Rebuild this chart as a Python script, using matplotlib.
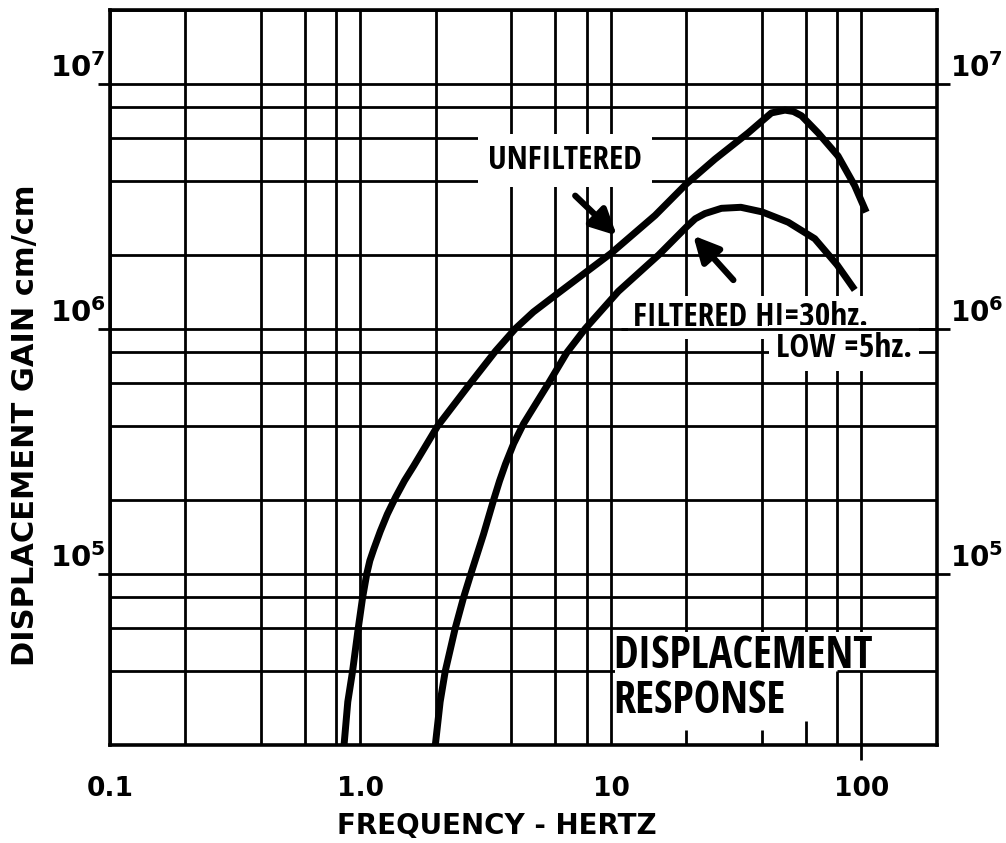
import matplotlib
matplotlib.use("Agg")
import matplotlib.pyplot as plt
import matplotlib.transforms as mtransforms
from matplotlib.patches import Rectangle
from matplotlib.ticker import FixedLocator, LogLocator, NullFormatter

# ---------------------------------------
# Response curves (frequency Hz, gain cm/cm)
# ---------------------------------------

unf_freq = [0.86, 0.89, 0.93, 0.98, 1.02, 1.06, 1.09, 1.13, 1.20, 1.28,
            1.38, 1.50, 1.63, 2.03, 2.75, 3.46, 4.15, 4.9, 6.0, 8.0,
            10.0, 15.0, 20.0, 26.0, 35.3, 43.7, 49.5, 53.5, 57.6, 67.1,
            80.6, 93.9, 104.5]
unf_gain = [2.0e4, 3.0e4, 4.0e4, 6.0e4, 8.0e4, 1.0e5, 1.13e5, 1.26e5, 1.49e5, 1.75e5,
            2.05e5, 2.4e5, 2.75e5, 4.0e5, 6.0e5, 8.1e5, 1.0e6, 1.17e6, 1.37e6, 1.71e6,
            2.03e6, 2.9e6, 3.9e6, 4.92e6, 6.3e6, 7.6e6, 7.8e6, 7.7e6, 7.4e6, 6.3e6,
            5.07e6, 3.84e6, 2.99e6]

filt_freq = [1.99, 2.08, 2.18, 2.39, 2.58, 2.76, 3.10, 3.40, 3.59, 3.79,
             4.09, 4.48, 5.64, 6.67, 7.89, 10.7, 15.5, 20.0, 21.7, 23.7,
             27.6, 33.0, 40.0, 51.0, 65.1, 80.0, 94.0]
filt_gain = [2.0e4, 3.0e4, 4.0e4, 6.0e4, 8.0e4, 1.0e5, 1.45e5, 2.0e5, 2.39e5, 2.80e5,
             3.4e5, 4.1e5, 6.0e5, 8.0e5, 1.0e6, 1.42e6, 2.0e6, 2.6e6, 2.81e6, 2.95e6,
             3.1e6, 3.13e6, 3.0e6, 2.72e6, 2.33e6, 1.82e6, 1.44e6]

x_ticks = [0.1, 1.0, 10, 100]
x_tick_labels = ["0.1", "1.0", "10", "100"]
y_ticks = [1e5, 1e6, 1e7]
y_tick_labels = ["10$^{5}$", "10$^{6}$", "10$^{7}$"]

narrow = ["Open Sans Condensed", "DejaVu Sans Condensed", "DejaVu Sans"]
plt.rcParams["mathtext.default"] = "bf"

# ---------------------------------------
# Axes and log grid
# ---------------------------------------

fig = plt.figure(figsize=(10.06, 8.43), dpi=100)
ax = fig.add_axes([0.1093, 0.1163, 0.822, 0.8719])
ax.set_xscale("log")
ax.set_yscale("log")
ax.set_xlim(0.1, 200)
ax.set_ylim(2e4, 2e7)

ax.xaxis.set_major_locator(FixedLocator(x_ticks))
ax.xaxis.set_minor_locator(LogLocator(base=10, subs=(2, 4, 6, 8)))
ax.yaxis.set_major_locator(FixedLocator(y_ticks))
ax.yaxis.set_minor_locator(LogLocator(base=10, subs=(2, 4, 6, 8)))
ax.xaxis.set_minor_formatter(NullFormatter())
ax.yaxis.set_minor_formatter(NullFormatter())

ax.set_axisbelow(True)
ax.grid(True, which="both", color="black", lw=2.0)
for s in ax.spines.values():
    s.set_linewidth(2.6)

ax.set_xticks(x_ticks)
ax.set_xticklabels(x_tick_labels, fontsize=19, fontweight="bold")
ax.tick_params(axis="x", which="major", length=11, width=2, pad=11)
ax.tick_params(axis="both", which="minor", length=0)
for tick in ax.xaxis.get_major_ticks()[:3]:
    tick.tick1line.set_visible(False)

ax.set_yticks(y_ticks)
ax.set_yticklabels([])
ax.tick_params(axis="y", which="major", left=True, right=True,
               length=9, width=2, direction="out")

# decade labels sit just above their grid line, on both sides
left_tf = mtransforms.blended_transform_factory(ax.transAxes, ax.transData)
for val, lab in zip(y_ticks, y_tick_labels):
    ax.text(-0.005, val * 1.01, lab, transform=left_tf, ha="right", va="bottom",
            fontsize=21, fontweight="bold")
    ax.text(1.016, val * 1.01, lab, transform=left_tf, ha="left", va="bottom",
            fontsize=20, fontweight="bold")

# ---------------------------------------
# Curves
# ---------------------------------------

ax.plot(unf_freq, unf_gain, color="black", lw=5, solid_capstyle="butt",
        solid_joinstyle="round", zorder=4)
ax.plot(filt_freq, filt_gain, color="black", lw=5, solid_capstyle="butt",
        solid_joinstyle="round", zorder=4)

arrow = dict(arrowstyle="-|>,head_length=0.7,head_width=0.35", lw=4.5,
             color="black", shrinkA=0, shrinkB=0, mutation_scale=22)
ax.annotate("", xy=(10.55, 2.4e6), xytext=(7.2, 3.49e6), arrowprops=arrow, zorder=5)
ax.annotate("", xy=(21.3, 2.4e6), xytext=(30.8, 1.58e6), arrowprops=arrow, zorder=5)

# ---------------------------------------
# Labels
# ---------------------------------------

ax.text(6.53, 4.88e6, "UNFILTERED", family=narrow, fontweight="bold",
        fontstretch="condensed", fontsize=24, ha="center", va="center", zorder=3,
        bbox=dict(boxstyle="square,pad=0.3", fc="white", ec="none"))

ax.text(12.3, 1.03e6, "FILTERED HI=30hz.", family=narrow, fontweight="bold",
        fontstretch="condensed", fontsize=24, ha="left", va="baseline", zorder=3,
        bbox=dict(boxstyle="square,pad=0.15", fc="white", ec="none"))
# the 10^6 rule runs under the filter caption
ax.hlines([1e6], 11, 200, color="black", lw=2.0, zorder=3.5)
ax.text(45.6, 8.33e5, "LOW =5hz.", family=narrow, fontweight="bold",
        fontstretch="condensed", fontsize=24, ha="left", va="center", zorder=3,
        bbox=dict(boxstyle="square,pad=0.2", fc="white", ec="none"))

# blank panel behind the caption in the lower right
ax.add_patch(Rectangle((10.4, 2e4), 200 - 10.4, 5.8e4 - 2e4, fc="white",
                       ec="none", zorder=1))
ax.vlines([20, 40], 2e4, 2.3e4, color="black", lw=2.0, zorder=1.5)
ax.vlines([60], 2e4, 2.5e4, color="black", lw=2.0, zorder=1.5)
ax.vlines([80, 100], 2e4, 4e4, color="black", lw=2.0, zorder=1.5)
ax.hlines([4e4], 80, 200, color="black", lw=2.0, zorder=1.5)

ax.text(10.2, 4.6e4, "DISPLACEMENT", family=narrow, fontweight="bold",
        fontstretch="condensed", fontsize=32, ha="left", va="center", zorder=3)
ax.text(10.2, 3.0e4, "RESPONSE", family=narrow, fontweight="bold",
        fontstretch="condensed", fontsize=32, ha="left", va="center", zorder=3)

fig.text(0.494, 0.02, "FREQUENCY - HERTZ", fontsize=20, fontweight="bold",
         ha="center", va="center")
fig.text(0.025, 0.496, "DISPLACEMENT GAIN cm/cm", fontsize=22, fontweight="bold",
         ha="center", va="center", rotation=90)

fig.savefig("out.png", dpi=100)
